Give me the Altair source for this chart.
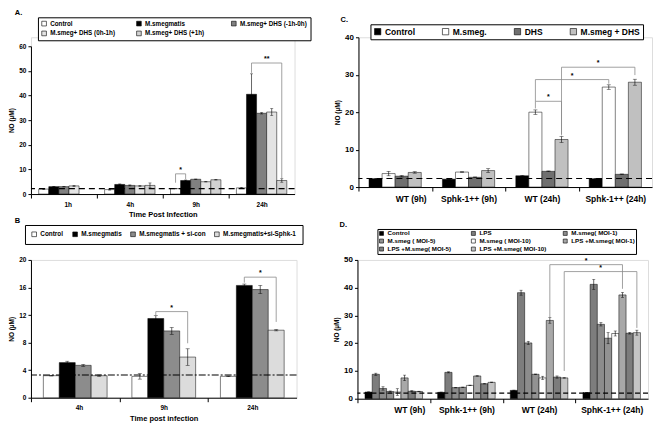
import altair as alt
import pandas as pd

FONT = "Liberation Sans"

# ---------------- Panel A ----------------
a_groups = ["1h", "4h", "9h", "24h"]
a_series = ["Control", "M.smegmatis", "M.smeg+ DHS (-1h-0h)", "M.smeg+ DHS (0h-1h)", "M.smeg+ DHS (+1h)"]
a_control = [2.0, 1.8, 2.2, 2.5]
a_msmeg = [3.0, 3.9, 5.5, 40.5]
a_dhs_pre = [3.0, 3.5, 6.0, 32.8]
a_dhs_0_1 = [3.3, 3.3, 5.0, 33.3]
a_dhs_post = [None, 3.5, 5.8, 5.5]
a_err_control = [0.2, 0.2, 0.1, 0.2]
a_err_msmeg = [0.1, 0.2, 0.2, 8.3]
a_err_dhs_pre = [0.1, 0.2, 0.1, 0.3]
a_err_dhs_0_1 = [0.2, 0.2, 0.1, 1.4]
a_err_dhs_post = [None, 1.0, 0.1, 0.7]
a_colors = ["#ffffff", "#000000", "#808080", "#e4e4e4", "#d2d2d2"]
a_ref = 2.2
# (group1, series1, leg1 bottom, group2, series2, leg2 bottom, level, label)
a_brackets = [(2, 0, 4.6, 2, 1, 6.0, 8.2, "*"), (3, 1, 49.2, 3, 4, 6.3, 53.2, "**")]

# ---------------- Panel B ----------------
b_groups = ["4h", "9h", "24h"]
b_series = ["Control", "M.smegmatis", "M.smegmatis + si-con", "M.smegmatis+si-Sphk-1"]
b_control = [3.2, 3.1, 3.1]
b_msmeg = [5.1, 11.5, 16.3]
b_sicon = [4.7, 9.7, 15.7]
b_sisphk = [3.2, 5.9, 9.8]
b_err_control = [0.05, 0.4, 0.05]
b_err_msmeg = [0.2, 0.4, 0.2]
b_err_sicon = [0.15, 0.5, 0.6]
b_err_sisphk = [0.1, 1.2, 0.1]
b_colors = ["#ffffff", "#000000", "#8c8c8c", "#dcdcdc"]
b_ref = 3.3
b_brackets = [(1, 1, 12.0, 1, 3, 7.9, 12.5, "*"), (2, 1, 16.7, 2, 3, 11.0, 17.5, "*")]

# ---------------- Panel C ----------------
c_groups = ["WT (9h)", "Sphk-1++ (9h)", "WT (24h)", "Sphk-1++ (24h)"]
c_series = ["Control", "M.smeg.", "DHS", "M.smeg + DHS"]
c_control = [2.2, 2.1, 3.0, 2.2]
c_msmeg = [3.6, 4.0, 20.0, 26.7]
c_dhs = [2.9, 2.6, 4.2, 3.4]
c_msmeg_dhs = [3.9, 4.4, 12.7, 28.0]
c_err_control = [0.1, 0.1, 0.1, 0.1]
c_err_msmeg = [0.6, 0.1, 0.6, 0.6]
c_err_dhs = [0.2, 0.1, 0.1, 0.1]
c_err_msmeg_dhs = [0.2, 0.5, 0.8, 0.8]
c_colors = ["#000000", "#ffffff", "#6f6f6f", "#c0c0c0"]
c_ref = 2.3
c_brackets = [(2, 1, 21.0, 2, 3, 13.8, 22.9, "*"),
              (2, 1, 22.9, 3, 1, 27.6, 28.7, "*"),
              (2, 3, 14.2, 3, 3, 29.9, 32.0, "*")]

# ---------------- Panel D ----------------
d_groups = ["WT (9h)", "Sphk-1++ (9h)", "WT (24h)", "SphK-1++ (24h)"]
d_series = ["Control", "LPS", "M.smeg( MOI-1)", "M.smeg ( MOI-5)", "M.smeg ( MOI-10)",
            "LPS +M.smeg( MOI-1)", "LPS +M.smeg( MOI-5)", "LPS +M.smeg( MOI-10)"]
d_control = [2.4, 2.3, 3.0, 2.2]
d_lps = [8.8, 9.5, 38.2, 41.2]
d_moi1 = [3.7, 4.0, 20.1, 26.8]
d_moi5 = [2.6, 4.1, 8.8, 21.8]
d_moi10 = [2.4, 4.8, 7.5, 23.5]
d_lps_moi1 = [7.5, 8.2, 28.2, 37.4]
d_lps_moi5 = [2.7, 5.4, 7.8, 23.6]
d_lps_moi10 = [2.6, 5.9, 7.5, 23.8]
d_err_control = [0.1, 0.1, 0.1, 0.1]
d_err_lps = [0.4, 0.2, 0.9, 1.8]
d_err_moi1 = [0.6, 0.1, 0.6, 0.6]
d_err_moi5 = [0.2, 0.1, 0.1, 2.0]
d_err_moi10 = [1.2, 0.1, 0.6, 0.9]
d_err_lps_moi1 = [1.0, 0.1, 1.0, 0.9]
d_err_lps_moi5 = [0.2, 0.1, 0.4, 0.3]
d_err_lps_moi10 = [0.1, 0.1, 0.1, 0.9]
d_colors = ["#000000", "#7d7d7d", "#8c8c8c", "#929292", "#ffffff", "#a8a8a8", "#7c7c7c", "#c4c4c4"]
d_ref = 2.0
d_brackets = [(2, 5, 29.4, 3, 5, 39.6, 48.3, "*"), (2, 7, 10.0, 3, 7, 25.5, 45.8, "*")]


def make_panel(groups, series, vals, errs, colors, bw, ymax, ystep, w, h, ref, dash,
               brackets, letter, xtitle, tfs, leg, cap, top_gap=0):
    k = len(series)
    n = len(groups)
    c = (k - 1) / 2
    rows = []
    for si, s in enumerate(series):
        for gi, g in enumerate(groups):
            v = vals[si][gi]
            if v is None:
                continue
            e = errs[si][gi] or 0
            rows.append(dict(series=s, gi=gi, si=si, v=v, e=e))
    df = pd.DataFrame(rows)
    pos = f"(datum.gi + 0.5 + (datum.si - {c}) * {bw})"
    xs = alt.Scale(domain=[0, n], nice=False, zero=False)
    ys = alt.Scale(domain=[0, ymax], nice=False, range=[h, top_gap])
    names = "[" + ",".join("'" + g + "'" for g in groups) + "]"
    xaxis = alt.Axis(values=list(range(n)), labelExpr=f"{names}[round(datum.value)]",
                     labelOffset=w / n / 2, labelOverlap=False, labelBound=False, tickSize=4,
                     labelFontSize=tfs, labelFont=FONT, labelFontWeight="bold", labelPadding=3,
                     domainColor="black", tickColor="black", grid=False,
                     title=xtitle, titleFontSize=7.5, titleFont=FONT, titleFontWeight="bold",
                     titlePadding=3)
    yaxis = alt.Axis(values=list(range(0, ymax + 1, ystep)), tickSize=3, grid=False,
                     labelFontSize=tfs if tfs < 8 else 8, labelFont=FONT, labelFontWeight="bold",
                     labelPadding=2, domainColor="black", tickColor="black",
                     title="NO (µM)", titleFontSize=6.5, titleFont=FONT, titleFontWeight="bold",
                     titlePadding=4)
    base = alt.Chart(df).transform_calculate(
        xc=pos, x0=f"{pos} - {bw / 2}", x1=f"{pos} + {bw / 2}",
        lo="datum.v - datum.e", hi="datum.v + datum.e")
    bars = base.mark_bar(stroke="black", strokeWidth=0.5).encode(
        x=alt.X("x0:Q", scale=xs, axis=xaxis),
        x2="x1:Q",
        y=alt.Y("v:Q", scale=ys, axis=yaxis),
        y2=alt.datum(0),
        color=alt.Color("series:N", scale=alt.Scale(domain=series, range=colors),
                        legend=alt.Legend(**leg)),
    )
    eb = base.transform_filter("datum.e > 0")
    err = eb.mark_rule(color="black", strokeWidth=0.6).encode(
        x=alt.X("xc:Q", scale=xs, axis=xaxis), y=alt.Y("lo:Q", axis=yaxis), y2="hi:Q")
    cap_hi = eb.mark_tick(color="black", orient="horizontal", size=cap, thickness=0.6).encode(
        x=alt.X("xc:Q", scale=xs, axis=xaxis), y=alt.Y("hi:Q", axis=yaxis))
    cap_lo = eb.mark_tick(color="black", orient="horizontal", size=cap, thickness=0.6).encode(
        x=alt.X("xc:Q", scale=xs, axis=xaxis), y=alt.Y("lo:Q", axis=yaxis))
    refl = alt.Chart(pd.DataFrame({"r": [ref]})).mark_rule(
        color="black", strokeDash=dash, strokeWidth=1.1).encode(y=alt.Y("r:Q", axis=yaxis))

    brows, srows = [], []
    for bi, (g1, s1, y1, g2, s2, y2, lev, lab) in enumerate(brackets):
        for o, (g, s, yv) in enumerate([(g1, s1, y1), (g1, s1, lev), (g2, s2, lev), (g2, s2, y2)]):
            brows.append(dict(bid=bi, ord=o, gi=g, si=s, by=yv))
        srows.append(dict(g1=g1, s1=s1, g2=g2, s2=s2, lev=lev, lab=lab))
    bdf = pd.DataFrame(brows)
    sdf = pd.DataFrame(srows)
    blines = alt.Chart(bdf).transform_calculate(bx=pos).mark_line(
        color="#8a8a8a", strokeWidth=0.8).encode(
        x=alt.X("bx:Q", scale=xs, axis=xaxis), y=alt.Y("by:Q", axis=yaxis),
        detail="bid:N", order="ord:Q")
    stars = alt.Chart(sdf).transform_calculate(
        sx=f"((datum.g1 + 0.5 + (datum.s1 - {c}) * {bw}) + (datum.g2 + 0.5 + (datum.s2 - {c}) * {bw})) / 2"
    ).mark_text(baseline="bottom", dy=-1, fontSize=7, font=FONT, fontWeight="bold").encode(
        x=alt.X("sx:Q", scale=xs, axis=xaxis), y=alt.Y("lev:Q", axis=yaxis), text="lab:N")

    return alt.layer(bars, err, cap_hi, cap_lo, refl, blines, stars).properties(
        width=w, height=h,
        title=alt.TitleParams(letter, anchor="start", fontSize=7.5, font=FONT, fontWeight="bold",
                              offset=0, dx=6))


def leg_params(x, y, cols, fs, sym, colpad, rowpad, pad, align):
    return dict(orient="none", legendX=x, legendY=y, direction="horizontal", columns=cols,
                title=None, strokeColor="black", fillColor="white", padding=pad,
                symbolType="square", symbolSize=sym, symbolStrokeColor="black",
                symbolStrokeWidth=0.6, labelFontSize=fs, labelFont=FONT, labelFontWeight="bold",
                columnPadding=colpad, rowPadding=rowpad, labelOffset=3, gridAlign=align,
                labelLimit=200)


A = make_panel(a_groups, a_series,
               [a_control, a_msmeg, a_dhs_pre, a_dhs_0_1, a_dhs_post],
               [a_err_control, a_err_msmeg, a_err_dhs_pre, a_err_dhs_0_1, a_err_dhs_post],
               a_colors, 0.153, 60, 10, 264, 157, a_ref, [6, 4], a_brackets, "A.",
               "Time Post Infection", 6.5,
               leg_params(7, -20, 3, 6.3, 22, 17, 2, 3, "all"), 3, top_gap=9)

B = make_panel(b_groups, b_series,
               [b_control, b_msmeg, b_sicon, b_sisphk],
               [b_err_control, b_err_msmeg, b_err_sicon, b_err_sisphk],
               b_colors, 0.18, 20, 4, 266, 138, b_ref, [7, 2, 2, 2], b_brackets, "B",
               "Time post infection", 6.5,
               leg_params(-6, -35, 4, 6.4, 22, 7, 2, 6, "each"), 4)

C = make_panel(c_groups, c_series,
               [c_control, c_msmeg, c_dhs, c_msmeg_dhs],
               [c_err_control, c_err_msmeg, c_err_dhs, c_err_msmeg_dhs],
               c_colors, 0.178, 40, 10, 294, 150, c_ref, [6, 4], c_brackets, "C.",
               None, 8.5,
               leg_params(12, -13, 4, 8.5, 40, 25, 2, 3, "each"), 4)

D = make_panel(d_groups, d_series,
               [d_control, d_lps, d_moi1, d_moi5, d_moi10, d_lps_moi1, d_lps_moi5, d_lps_moi10],
               [d_err_control, d_err_lps, d_err_moi1, d_err_moi5, d_err_moi10,
                d_err_lps_moi1, d_err_lps_moi5, d_err_lps_moi10],
               d_colors, 0.099, 50, 10, 291, 139, d_ref, [5, 3], d_brackets, "D.",
               None, 8.5,
               leg_params(20, -31, 3, 6.2, 16, 14, 0, 1, "all"), 3)

top = alt.hconcat(A, C, spacing=22).resolve_scale(color="independent")
bottom = alt.hconcat(B, D, spacing=29).resolve_scale(color="independent")
chart = alt.vconcat(top, bottom, spacing=-3).resolve_scale(color="independent").properties(
    padding={"left": 0, "top": 0, "right": 0, "bottom": 0}
).configure_view(stroke=None).configure(font=FONT)

chart.save("out.html", embed_options={"renderer": "svg", "actions": False})
